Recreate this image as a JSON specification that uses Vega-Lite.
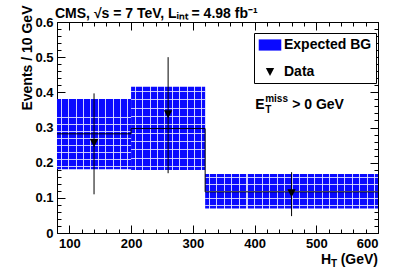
{
  "$schema": "https://vega.github.io/schema/vega-lite/v6.json",
  "autosize": {"type": "none"},
  "padding": {"left": 57, "top": 22, "right": 29, "bottom": 43},
  "width": 321,
  "height": 211,
  "background": "white",
  "title": {
    "text": "CMS, √s = 7 TeV, Lᵢₙₜ = 4.98 fb⁻¹",
    "anchor": "start",
    "dx": 35,
    "dy": 34,
    "offset": 7,
    "baseline": "alphabetic",
    "font": "Liberation Sans",
    "fontSize": 14,
    "fontWeight": "bold",
    "color": "black"
  },
  "datasets": {
    "bins": [
      {"x1": 80, "x2": 200, "lo": 0.181, "hi": 0.381, "series": "Expected BG"},
      {"x1": 200, "x2": 320, "lo": 0.179, "hi": 0.416, "series": "Expected BG"},
      {"x1": 320, "x2": 600, "lo": 0.070, "hi": 0.168, "series": "Expected BG"}
    ],
    "edges": [
      {"x": 80, "c": 0.282},
      {"x": 200, "c": 0.297},
      {"x": 320, "c": 0.117},
      {"x": 600, "c": 0.117}
    ],
    "obs": [
      {"x": 140, "y": 0.256, "lo": 0.110, "hi": 0.397, "series": "Data"},
      {"x": 260, "y": 0.338, "lo": 0.170, "hi": 0.500, "series": "Data"},
      {"x": 460, "y": 0.113, "lo": 0.048, "hi": 0.173, "series": "Data"}
    ],
    "anno": [{"x": 401, "y": 0.353}],
    "xt": [{"x": 600, "y": 0}]
  },
  "resolve": {"axis": {"x": "independent", "y": "independent"}},
  "layer": [
    {
      "data": {"name": "bins"},
      "transform": [{"filter": "datum.x1 < 320"}],
      "mark": {"type": "rect", "strokeWidth": 0, "fill": {"gradient": "linear", "x1": 0, "y1": 0, "x2": 1, "y2": 0, "stops": [
        {"offset": 0, "color": "#0a0aff"},
        {"offset": 0.05, "color": "#0a0aff"}, {"offset": 0.05, "color": "#d0d0ff"}, {"offset": 0.064, "color": "#d0d0ff"}, {"offset": 0.064, "color": "#0a0aff"},
        {"offset": 0.15, "color": "#0a0aff"}, {"offset": 0.15, "color": "#d0d0ff"}, {"offset": 0.164, "color": "#d0d0ff"}, {"offset": 0.164, "color": "#0a0aff"},
        {"offset": 0.25, "color": "#0a0aff"}, {"offset": 0.25, "color": "#d0d0ff"}, {"offset": 0.264, "color": "#d0d0ff"}, {"offset": 0.264, "color": "#0a0aff"},
        {"offset": 0.35, "color": "#0a0aff"}, {"offset": 0.35, "color": "#d0d0ff"}, {"offset": 0.364, "color": "#d0d0ff"}, {"offset": 0.364, "color": "#0a0aff"},
        {"offset": 0.45, "color": "#0a0aff"}, {"offset": 0.45, "color": "#d0d0ff"}, {"offset": 0.464, "color": "#d0d0ff"}, {"offset": 0.464, "color": "#0a0aff"},
        {"offset": 0.55, "color": "#0a0aff"}, {"offset": 0.55, "color": "#d0d0ff"}, {"offset": 0.564, "color": "#d0d0ff"}, {"offset": 0.564, "color": "#0a0aff"},
        {"offset": 0.65, "color": "#0a0aff"}, {"offset": 0.65, "color": "#d0d0ff"}, {"offset": 0.664, "color": "#d0d0ff"}, {"offset": 0.664, "color": "#0a0aff"},
        {"offset": 0.75, "color": "#0a0aff"}, {"offset": 0.75, "color": "#d0d0ff"}, {"offset": 0.764, "color": "#d0d0ff"}, {"offset": 0.764, "color": "#0a0aff"},
        {"offset": 0.85, "color": "#0a0aff"}, {"offset": 0.85, "color": "#d0d0ff"}, {"offset": 0.864, "color": "#d0d0ff"}, {"offset": 0.864, "color": "#0a0aff"},
        {"offset": 0.95, "color": "#0a0aff"}, {"offset": 0.95, "color": "#d0d0ff"}, {"offset": 0.964, "color": "#d0d0ff"}, {"offset": 0.964, "color": "#0a0aff"},
        {"offset": 1, "color": "#0a0aff"}
      ]}},
      "encoding": {
        "x": {"field": "x1", "type": "quantitative", "scale": {"domain": [80, 600], "nice": false, "zero": false},
          "axis": {"orient": "bottom", "values": [100, 200, 300, 400, 500, 600], "tickSize": -8, "labelPadding": 12, "title": null, "domain": true}},
        "x2": {"field": "x2"},
        "y": {"field": "lo", "type": "quantitative", "scale": {"domain": [0, 0.6], "nice": false},
          "axis": {"orient": "left", "values": [0, 0.1, 0.2, 0.3, 0.4, 0.5, 0.6], "format": ".1~f", "tickSize": -8, "labelPadding": 12,
            "title": "Events / 10 GeV", "titleAnchor": "end", "titleAlign": "right", "titleBaseline": "alphabetic", "titleAngle": -90, "titleX": -26, "titleY": -17}},
        "y2": {"field": "hi"}
      }
    },
    {
      "data": {"name": "bins"},
      "transform": [{"filter": "datum.x1 >= 320"}],
      "mark": {"type": "rect", "strokeWidth": 0, "fill": {"gradient": "linear", "x1": 0, "y1": 0, "x2": 1, "y2": 0, "stops": [
        {"offset": 0, "color": "#0a0aff"},
        {"offset": 0.0217, "color": "#0a0aff"}, {"offset": 0.0217, "color": "#d0d0ff"}, {"offset": 0.0277, "color": "#d0d0ff"}, {"offset": 0.0277, "color": "#0a0aff"},
        {"offset": 0.0652, "color": "#0a0aff"}, {"offset": 0.0652, "color": "#d0d0ff"}, {"offset": 0.0712, "color": "#d0d0ff"}, {"offset": 0.0712, "color": "#0a0aff"},
        {"offset": 0.1087, "color": "#0a0aff"}, {"offset": 0.1087, "color": "#d0d0ff"}, {"offset": 0.1147, "color": "#d0d0ff"}, {"offset": 0.1147, "color": "#0a0aff"},
        {"offset": 0.1522, "color": "#0a0aff"}, {"offset": 0.1522, "color": "#d0d0ff"}, {"offset": 0.1582, "color": "#d0d0ff"}, {"offset": 0.1582, "color": "#0a0aff"},
        {"offset": 0.1957, "color": "#0a0aff"}, {"offset": 0.1957, "color": "#d0d0ff"}, {"offset": 0.2017, "color": "#d0d0ff"}, {"offset": 0.2017, "color": "#0a0aff"},
        {"offset": 0.2391, "color": "#0a0aff"}, {"offset": 0.2391, "color": "#d0d0ff"}, {"offset": 0.2451, "color": "#d0d0ff"}, {"offset": 0.2451, "color": "#0a0aff"},
        {"offset": 0.2826, "color": "#0a0aff"}, {"offset": 0.2826, "color": "#d0d0ff"}, {"offset": 0.2886, "color": "#d0d0ff"}, {"offset": 0.2886, "color": "#0a0aff"},
        {"offset": 0.3261, "color": "#0a0aff"}, {"offset": 0.3261, "color": "#d0d0ff"}, {"offset": 0.3321, "color": "#d0d0ff"}, {"offset": 0.3321, "color": "#0a0aff"},
        {"offset": 0.3696, "color": "#0a0aff"}, {"offset": 0.3696, "color": "#d0d0ff"}, {"offset": 0.3756, "color": "#d0d0ff"}, {"offset": 0.3756, "color": "#0a0aff"},
        {"offset": 0.4130, "color": "#0a0aff"}, {"offset": 0.4130, "color": "#d0d0ff"}, {"offset": 0.4190, "color": "#d0d0ff"}, {"offset": 0.4190, "color": "#0a0aff"},
        {"offset": 0.4565, "color": "#0a0aff"}, {"offset": 0.4565, "color": "#d0d0ff"}, {"offset": 0.4625, "color": "#d0d0ff"}, {"offset": 0.4625, "color": "#0a0aff"},
        {"offset": 0.5000, "color": "#0a0aff"}, {"offset": 0.5000, "color": "#d0d0ff"}, {"offset": 0.5060, "color": "#d0d0ff"}, {"offset": 0.5060, "color": "#0a0aff"},
        {"offset": 0.5435, "color": "#0a0aff"}, {"offset": 0.5435, "color": "#d0d0ff"}, {"offset": 0.5495, "color": "#d0d0ff"}, {"offset": 0.5495, "color": "#0a0aff"},
        {"offset": 0.5870, "color": "#0a0aff"}, {"offset": 0.5870, "color": "#d0d0ff"}, {"offset": 0.5930, "color": "#d0d0ff"}, {"offset": 0.5930, "color": "#0a0aff"},
        {"offset": 0.6304, "color": "#0a0aff"}, {"offset": 0.6304, "color": "#d0d0ff"}, {"offset": 0.6364, "color": "#d0d0ff"}, {"offset": 0.6364, "color": "#0a0aff"},
        {"offset": 0.6739, "color": "#0a0aff"}, {"offset": 0.6739, "color": "#d0d0ff"}, {"offset": 0.6799, "color": "#d0d0ff"}, {"offset": 0.6799, "color": "#0a0aff"},
        {"offset": 0.7174, "color": "#0a0aff"}, {"offset": 0.7174, "color": "#d0d0ff"}, {"offset": 0.7234, "color": "#d0d0ff"}, {"offset": 0.7234, "color": "#0a0aff"},
        {"offset": 0.7609, "color": "#0a0aff"}, {"offset": 0.7609, "color": "#d0d0ff"}, {"offset": 0.7669, "color": "#d0d0ff"}, {"offset": 0.7669, "color": "#0a0aff"},
        {"offset": 0.8043, "color": "#0a0aff"}, {"offset": 0.8043, "color": "#d0d0ff"}, {"offset": 0.8103, "color": "#d0d0ff"}, {"offset": 0.8103, "color": "#0a0aff"},
        {"offset": 0.8478, "color": "#0a0aff"}, {"offset": 0.8478, "color": "#d0d0ff"}, {"offset": 0.8538, "color": "#d0d0ff"}, {"offset": 0.8538, "color": "#0a0aff"},
        {"offset": 0.8913, "color": "#0a0aff"}, {"offset": 0.8913, "color": "#d0d0ff"}, {"offset": 0.8973, "color": "#d0d0ff"}, {"offset": 0.8973, "color": "#0a0aff"},
        {"offset": 0.9348, "color": "#0a0aff"}, {"offset": 0.9348, "color": "#d0d0ff"}, {"offset": 0.9408, "color": "#d0d0ff"}, {"offset": 0.9408, "color": "#0a0aff"},
        {"offset": 0.9783, "color": "#0a0aff"}, {"offset": 0.9783, "color": "#d0d0ff"}, {"offset": 0.9843, "color": "#d0d0ff"}, {"offset": 0.9843, "color": "#0a0aff"},
        {"offset": 1, "color": "#0a0aff"}
      ]}},
      "encoding": {
        "x": {"field": "x1", "type": "quantitative", "scale": {"domain": [80, 600], "nice": false, "zero": false}, "axis": null},
        "x2": {"field": "x2"},
        "y": {"field": "lo", "type": "quantitative", "scale": {"domain": [0, 0.6], "nice": false}, "axis": null},
        "y2": {"field": "hi"}
      }
    },
    {
      "data": {"name": "bins"},
      "transform": [{"filter": "datum.x1 < 320"}],
      "mark": {"type": "rect", "strokeWidth": 0, "fill": {"gradient": "linear", "x1": 0, "y1": 0, "x2": 0, "y2": 1, "stops": [
        {"offset": 0, "color": "rgba(230,230,255,0)"},
        {"offset": 0.05, "color": "rgba(230,230,255,0)"}, {"offset": 0.05, "color": "rgba(230,230,255,0.85)"}, {"offset": 0.063, "color": "rgba(230,230,255,0.85)"}, {"offset": 0.063, "color": "rgba(230,230,255,0)"},
        {"offset": 0.15, "color": "rgba(230,230,255,0)"}, {"offset": 0.15, "color": "rgba(230,230,255,0.85)"}, {"offset": 0.163, "color": "rgba(230,230,255,0.85)"}, {"offset": 0.163, "color": "rgba(230,230,255,0)"},
        {"offset": 0.25, "color": "rgba(230,230,255,0)"}, {"offset": 0.25, "color": "rgba(230,230,255,0.85)"}, {"offset": 0.263, "color": "rgba(230,230,255,0.85)"}, {"offset": 0.263, "color": "rgba(230,230,255,0)"},
        {"offset": 0.35, "color": "rgba(230,230,255,0)"}, {"offset": 0.35, "color": "rgba(230,230,255,0.85)"}, {"offset": 0.363, "color": "rgba(230,230,255,0.85)"}, {"offset": 0.363, "color": "rgba(230,230,255,0)"},
        {"offset": 0.45, "color": "rgba(230,230,255,0)"}, {"offset": 0.45, "color": "rgba(230,230,255,0.85)"}, {"offset": 0.463, "color": "rgba(230,230,255,0.85)"}, {"offset": 0.463, "color": "rgba(230,230,255,0)"},
        {"offset": 0.55, "color": "rgba(230,230,255,0)"}, {"offset": 0.55, "color": "rgba(230,230,255,0.85)"}, {"offset": 0.563, "color": "rgba(230,230,255,0.85)"}, {"offset": 0.563, "color": "rgba(230,230,255,0)"},
        {"offset": 0.65, "color": "rgba(230,230,255,0)"}, {"offset": 0.65, "color": "rgba(230,230,255,0.85)"}, {"offset": 0.663, "color": "rgba(230,230,255,0.85)"}, {"offset": 0.663, "color": "rgba(230,230,255,0)"},
        {"offset": 0.75, "color": "rgba(230,230,255,0)"}, {"offset": 0.75, "color": "rgba(230,230,255,0.85)"}, {"offset": 0.763, "color": "rgba(230,230,255,0.85)"}, {"offset": 0.763, "color": "rgba(230,230,255,0)"},
        {"offset": 0.85, "color": "rgba(230,230,255,0)"}, {"offset": 0.85, "color": "rgba(230,230,255,0.85)"}, {"offset": 0.863, "color": "rgba(230,230,255,0.85)"}, {"offset": 0.863, "color": "rgba(230,230,255,0)"},
        {"offset": 0.95, "color": "rgba(230,230,255,0)"}, {"offset": 0.95, "color": "rgba(230,230,255,0.85)"}, {"offset": 0.963, "color": "rgba(230,230,255,0.85)"}, {"offset": 0.963, "color": "rgba(230,230,255,0)"},
        {"offset": 1, "color": "rgba(230,230,255,0)"}
      ]}},
      "encoding": {
        "x": {"field": "x1", "type": "quantitative", "scale": {"domain": [80, 600], "nice": false, "zero": false}, "axis": null},
        "x2": {"field": "x2"},
        "y": {"field": "lo", "type": "quantitative", "scale": {"domain": [0, 0.6], "nice": false}, "axis": null},
        "y2": {"field": "hi"}
      }
    },
    {
      "data": {"name": "bins"},
      "transform": [{"filter": "datum.x1 >= 320"}],
      "mark": {"type": "rect", "strokeWidth": 0, "fill": {"gradient": "linear", "x1": 0, "y1": 0, "x2": 0, "y2": 1, "stops": [
        {"offset": 0, "color": "rgba(230,230,255,0)"},
        {"offset": 0.1, "color": "rgba(230,230,255,0)"}, {"offset": 0.1, "color": "rgba(230,230,255,0.85)"}, {"offset": 0.13, "color": "rgba(230,230,255,0.85)"}, {"offset": 0.13, "color": "rgba(230,230,255,0)"},
        {"offset": 0.3, "color": "rgba(230,230,255,0)"}, {"offset": 0.3, "color": "rgba(230,230,255,0.85)"}, {"offset": 0.33, "color": "rgba(230,230,255,0.85)"}, {"offset": 0.33, "color": "rgba(230,230,255,0)"},
        {"offset": 0.5, "color": "rgba(230,230,255,0)"}, {"offset": 0.5, "color": "rgba(230,230,255,0.85)"}, {"offset": 0.53, "color": "rgba(230,230,255,0.85)"}, {"offset": 0.53, "color": "rgba(230,230,255,0)"},
        {"offset": 0.7, "color": "rgba(230,230,255,0)"}, {"offset": 0.7, "color": "rgba(230,230,255,0.85)"}, {"offset": 0.73, "color": "rgba(230,230,255,0.85)"}, {"offset": 0.73, "color": "rgba(230,230,255,0)"},
        {"offset": 0.9, "color": "rgba(230,230,255,0)"}, {"offset": 0.9, "color": "rgba(230,230,255,0.85)"}, {"offset": 0.93, "color": "rgba(230,230,255,0.85)"}, {"offset": 0.93, "color": "rgba(230,230,255,0)"},
        {"offset": 1, "color": "rgba(230,230,255,0)"}
      ]}},
      "encoding": {
        "x": {"field": "x1", "type": "quantitative", "scale": {"domain": [80, 600], "nice": false, "zero": false}, "axis": null},
        "x2": {"field": "x2"},
        "y": {"field": "lo", "type": "quantitative", "scale": {"domain": [0, 0.6], "nice": false}, "axis": null},
        "y2": {"field": "hi"}
      }
    },
    {
      "data": {"name": "edges"},
      "mark": {"type": "line", "interpolate": "step-after", "color": "black", "strokeWidth": 1},
      "encoding": {
        "x": {"field": "x", "type": "quantitative", "scale": {"domain": [80, 600], "nice": false, "zero": false},
          "axis": {"orient": "bottom", "values": [120, 140, 160, 180, 220, 240, 260, 280, 320, 340, 360, 380, 420, 440, 460, 480, 520, 540, 560, 580], "tickSize": -4, "labels": false, "domain": false, "title": null}},
        "y": {"field": "c", "type": "quantitative", "scale": {"domain": [0, 0.6], "nice": false},
          "axis": {"orient": "left", "values": [0.02, 0.04, 0.06, 0.08, 0.12, 0.14, 0.16, 0.18, 0.22, 0.24, 0.26, 0.28, 0.32, 0.34, 0.36, 0.38, 0.42, 0.44, 0.46, 0.48, 0.52, 0.54, 0.56, 0.58], "tickSize": -4, "labels": false, "domain": false, "title": null}}
      }
    },
    {
      "data": {"name": "obs"},
      "mark": {"type": "rule", "color": "black", "strokeWidth": 1},
      "encoding": {
        "x": {"field": "x", "type": "quantitative", "scale": {"domain": [80, 600], "nice": false, "zero": false},
          "axis": {"orient": "top", "values": [100, 200, 300, 400, 500, 600], "tickSize": -8, "labels": false, "domain": true, "title": null}},
        "y": {"field": "lo", "type": "quantitative", "scale": {"domain": [0, 0.6], "nice": false},
          "axis": {"orient": "right", "values": [0, 0.1, 0.2, 0.3, 0.4, 0.5, 0.6], "tickSize": -8, "labels": false, "domain": true, "title": null}},
        "y2": {"field": "hi"}
      }
    },
    {
      "data": {"name": "obs"},
      "mark": {"type": "point", "filled": true, "opacity": 1, "size": 256, "strokeWidth": 0},
      "encoding": {
        "x": {"field": "x", "type": "quantitative", "scale": {"domain": [80, 600], "nice": false, "zero": false},
          "axis": {"orient": "top", "values": [120, 140, 160, 180, 220, 240, 260, 280, 320, 340, 360, 380, 420, 440, 460, 480, 520, 540, 560, 580], "tickSize": -4, "labels": false, "domain": false, "title": null}},
        "y": {"field": "y", "type": "quantitative", "scale": {"domain": [0, 0.6], "nice": false},
          "axis": {"orient": "right", "values": [0.02, 0.04, 0.06, 0.08, 0.12, 0.14, 0.16, 0.18, 0.22, 0.24, 0.26, 0.28, 0.32, 0.34, 0.36, 0.38, 0.42, 0.44, 0.46, 0.48, 0.52, 0.54, 0.56, 0.58], "tickSize": -4, "labels": false, "domain": false, "title": null}},
        "color": {"field": "series", "type": "nominal",
          "scale": {"domain": ["Expected BG", "Data"], "range": ["#0a0aff", "black"]},
          "legend": {"orient": "none", "legendX": 197, "legendY": 11, "title": null, "direction": "vertical",
            "strokeColor": "black", "fillColor": "white", "padding": 4, "rowPadding": 12, "symbolSize": 256,
            "symbolOffset": 4, "labelOffset": 6, "labelFont": "Liberation Sans", "labelFontSize": 14, "labelFontWeight": "bold",
            "labelColor": "black", "symbolStrokeWidth": 0, "cornerRadius": 0}},
        "shape": {"field": "series", "type": "nominal",
          "scale": {"domain": ["Expected BG", "Data"], "range": ["M-1.41,-0.7L1.41,-0.7L1.41,0.7L-1.41,0.7Z", "M-0.52,-0.5L0.52,-0.5L0,0.5Z"]},
          "legend": {"orient": "none", "legendX": 197, "legendY": 11, "title": null, "direction": "vertical",
            "strokeColor": "black", "fillColor": "white", "padding": 4, "rowPadding": 12, "symbolSize": 256,
            "symbolOffset": 4, "labelOffset": 6, "labelFont": "Liberation Sans", "labelFontSize": 14, "labelFontWeight": "bold",
            "labelColor": "black", "symbolStrokeWidth": 0, "cornerRadius": 0}}
      }
    },
    {
      "data": {"name": "anno"},
      "mark": {"type": "text", "text": "E", "align": "left", "baseline": "alphabetic", "font": "Liberation Sans", "fontSize": 14, "fontWeight": "bold", "color": "black"},
      "encoding": {
        "x": {"field": "x", "type": "quantitative", "scale": {"domain": [80, 600], "nice": false, "zero": false}, "axis": null},
        "y": {"field": "y", "type": "quantitative", "scale": {"domain": [0, 0.6], "nice": false}, "axis": null}
      }
    },
    {
      "data": {"name": "anno"},
      "mark": {"type": "text", "text": "miss", "align": "left", "baseline": "alphabetic", "dx": 10, "dy": -7, "font": "Liberation Sans", "fontSize": 10, "fontWeight": "bold", "color": "black"},
      "encoding": {
        "x": {"field": "x", "type": "quantitative", "scale": {"domain": [80, 600], "nice": false, "zero": false}, "axis": null},
        "y": {"field": "y", "type": "quantitative", "scale": {"domain": [0, 0.6], "nice": false}, "axis": null}
      }
    },
    {
      "data": {"name": "anno"},
      "mark": {"type": "text", "text": "T", "align": "left", "baseline": "alphabetic", "dx": 10, "dy": 4, "font": "Liberation Sans", "fontSize": 10, "fontWeight": "bold", "color": "black"},
      "encoding": {
        "x": {"field": "x", "type": "quantitative", "scale": {"domain": [80, 600], "nice": false, "zero": false}, "axis": null},
        "y": {"field": "y", "type": "quantitative", "scale": {"domain": [0, 0.6], "nice": false}, "axis": null}
      }
    },
    {
      "data": {"name": "anno"},
      "mark": {"type": "text", "text": "> 0 GeV", "align": "left", "baseline": "alphabetic", "dx": 37, "font": "Liberation Sans", "fontSize": 14, "fontWeight": "bold", "color": "black"},
      "encoding": {
        "x": {"field": "x", "type": "quantitative", "scale": {"domain": [80, 600], "nice": false, "zero": false}, "axis": null},
        "y": {"field": "y", "type": "quantitative", "scale": {"domain": [0, 0.6], "nice": false}, "axis": null}
      }
    },
    {
      "data": {"name": "xt"},
      "mark": {"type": "text", "text": "(GeV)", "align": "right", "baseline": "alphabetic", "dy": 31, "font": "Liberation Sans", "fontSize": 14, "fontWeight": "bold", "color": "black"},
      "encoding": {
        "x": {"field": "x", "type": "quantitative", "scale": {"domain": [80, 600], "nice": false, "zero": false}, "axis": null},
        "y": {"field": "y", "type": "quantitative", "scale": {"domain": [0, 0.6], "nice": false}, "axis": null}
      }
    },
    {
      "data": {"name": "xt"},
      "mark": {"type": "text", "text": "T", "align": "right", "baseline": "alphabetic", "dx": -41, "dy": 34, "font": "Liberation Sans", "fontSize": 10, "fontWeight": "bold", "color": "black"},
      "encoding": {
        "x": {"field": "x", "type": "quantitative", "scale": {"domain": [80, 600], "nice": false, "zero": false}, "axis": null},
        "y": {"field": "y", "type": "quantitative", "scale": {"domain": [0, 0.6], "nice": false}, "axis": null}
      }
    },
    {
      "data": {"name": "xt"},
      "mark": {"type": "text", "text": "H", "align": "right", "baseline": "alphabetic", "dx": -47, "dy": 31, "font": "Liberation Sans", "fontSize": 14, "fontWeight": "bold", "color": "black"},
      "encoding": {
        "x": {"field": "x", "type": "quantitative", "scale": {"domain": [80, 600], "nice": false, "zero": false}, "axis": null},
        "y": {"field": "y", "type": "quantitative", "scale": {"domain": [0, 0.6], "nice": false}, "axis": null}
      }
    }
  ],
  "config": {
    "view": {"stroke": "black", "strokeWidth": 1},
    "axis": {
      "labelFont": "Liberation Sans", "labelFontSize": 13, "labelFontWeight": "bold", "labelColor": "black",
      "titleFont": "Liberation Sans", "titleFontSize": 14, "titleFontWeight": "bold", "titleColor": "black",
      "tickColor": "black", "domainColor": "black", "grid": false, "tickWidth": 1, "domainWidth": 1
    }
  }
}
